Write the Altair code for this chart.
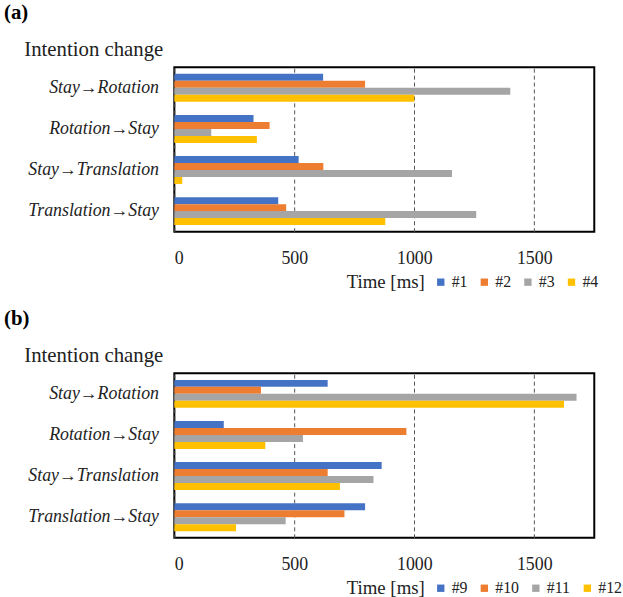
import altair as alt
import pandas as pd

SERIF = "Liberation Serif"

categories = ["Stay→Rotation", "Rotation→Stay", "Stay→Translation", "Translation→Stay"]
series_a = ["#1", "#2", "#3", "#4"]
series_b = ["#9", "#10", "#11", "#12"]

# values per series, ordered like categories (ms)
a1 = [620, 330, 518, 433]
a2 = [795, 397, 621, 466]
a3 = [1400, 154, 1157, 1258]
a4 = [1000, 344, 33, 879]

b9 = [639, 206, 864, 795]
b10 = [361, 967, 639, 709]
b11 = [1676, 536, 830, 464]
b12 = [1624, 379, 690, 257]

tick_values = [0, 500, 1000, 1500]
colors = ["#4472C4", "#ED7D31", "#A5A5A5", "#FFC000"]


def panel(tag, series, values):
    rows = []
    for s, vals in zip(series, values):
        for c, v in zip(categories, vals):
            rows.append({"cat": c, "series": s, "time": v})
    df = pd.DataFrame(rows)
    return alt.Chart(
        df,
        title=alt.TitleParams(tag, anchor="start", frame="bounds", fontSize=21,
                              fontWeight="bold", font=SERIF, color="black",
                              dx=-20, offset=16),
    ).mark_bar().encode(
        x=alt.X("time:Q", scale=alt.Scale(domain=[0, 1750], nice=False),
                axis=alt.Axis(values=tick_values, format="d", title=None, grid=True,
                              gridDash=[4, 3], gridColor="#555555", gridWidth=1,
                              ticks=False, domain=False, labelPadding=18,
                              labelFontSize=18, labelFont=SERIF, labelColor="#222222")),
        y=alt.Y("cat:N", sort=categories,
                scale=alt.Scale(paddingInner=0.32, paddingOuter=0.16),
                axis=alt.Axis(title="Intention change", titleAngle=0, titleAlign="left",
                              titleX=-152, titleY=-18, titleBaseline="middle",
                              titleFont=SERIF, titleFontSize=21, titleFontWeight="normal",
                              titleColor="#222222",
                              labelFont=SERIF, labelFontSize=18, labelFontStyle="italic",
                              labelColor="#222222", labelPadding=16,
                              ticks=False, domain=False, grid=False)),
        yOffset=alt.YOffset("series:N", sort=series,
                            scale=alt.Scale(paddingInner=0, paddingOuter=0)),
        color=alt.Color("series:N", sort=series,
                        scale=alt.Scale(domain=series, range=colors),
                        legend=alt.Legend(title="Time [ms]", titleOrient="left",
                                          orient="none", legendX=174, legendY=209,
                                          direction="horizontal", columns=4,
                                          symbolType="square", symbolSize=55,
                                          symbolStrokeWidth=0, columnPadding=9,
                                          labelOffset=3,
                                          titleFont=SERIF, titleFontSize=19,
                                          titleFontWeight="normal", titleColor="#222222",
                                          titlePadding=7, titleBaseline="middle",
                                          labelFont=SERIF, labelFontSize=16,
                                          labelColor="#222222")),
    ).properties(width=424, height=166)


top = panel("(a)", series_a, [a1, a2, a3, a4])
bottom = panel("(b)", series_b, [b9, b10, b11, b12])

chart = alt.vconcat(top, bottom, spacing=14).resolve_scale(
    color="independent", y="independent", x="independent", yOffset="independent"
).configure(
    padding={"left": 3, "top": -2, "right": 0, "bottom": 0},
    background="white", font=SERIF,
    view=alt.ViewConfig(stroke="black", strokeWidth=2),
)

chart.save("out.html", embed_options={"renderer": "svg", "actions": False})
